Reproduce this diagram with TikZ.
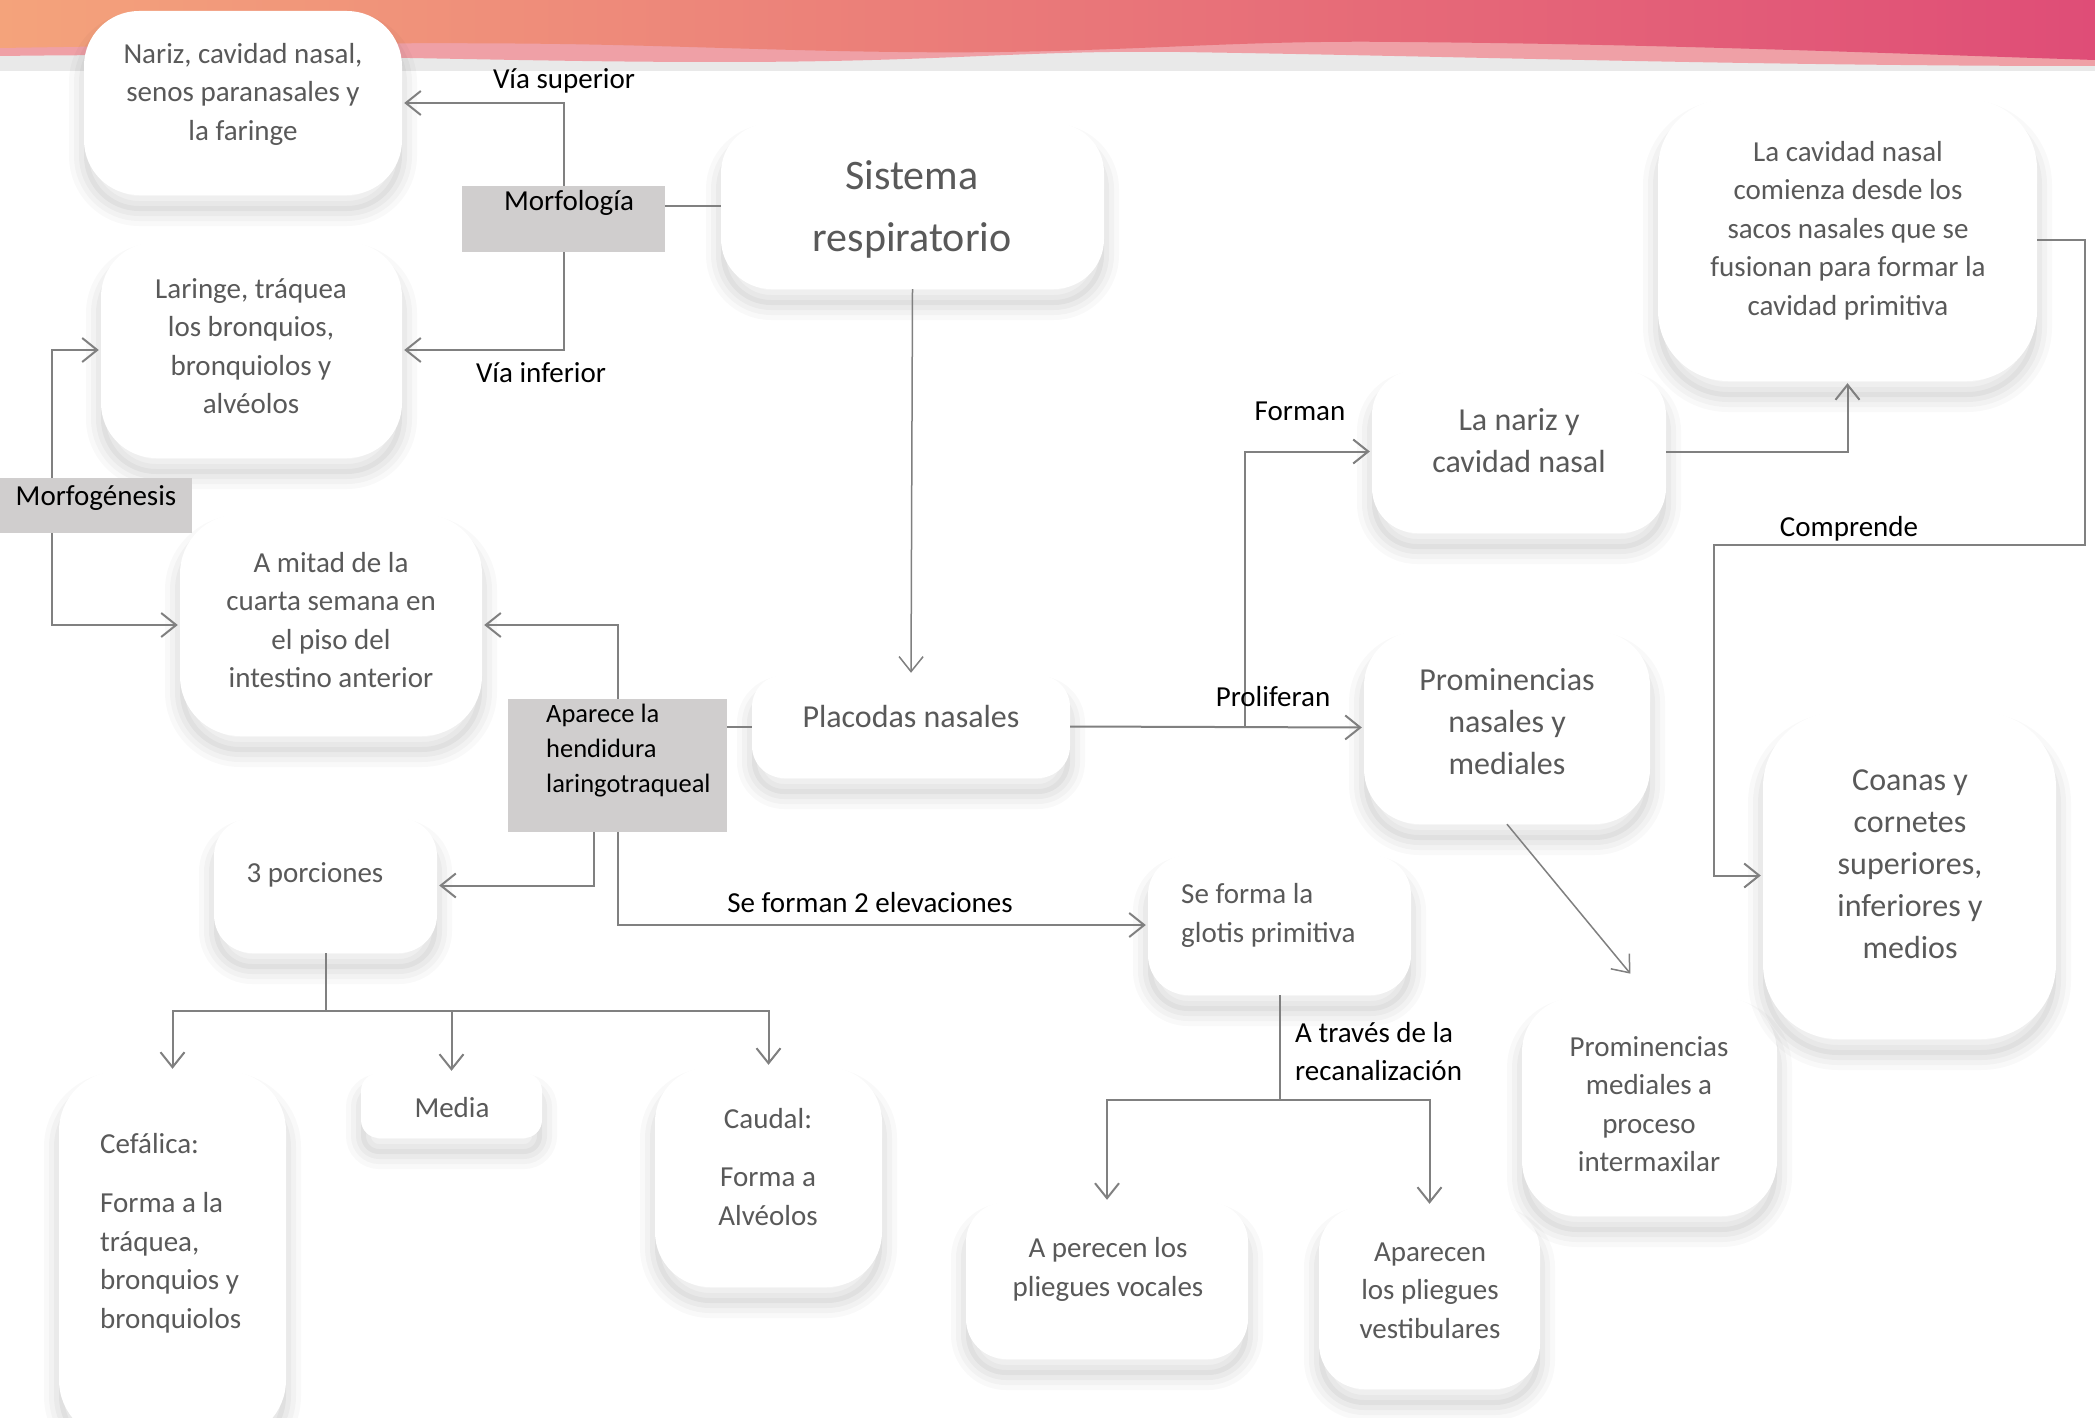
\documentclass[tikz,border=0pt]{standalone}
\usepackage{fontspec}
\setmainfont{Carlito}
\usetikzlibrary{arrows.meta}

\definecolor{linegrey}{HTML}{808080}
\definecolor{txtgrey}{HTML}{595959}
\definecolor{tagfill}{HTML}{D0CECE}
\definecolor{bandgrey}{HTML}{E9E9E9}
\definecolor{warmA}{HTML}{F4A37B}
\definecolor{warmB}{HTML}{EC7572}
\definecolor{warmC}{HTML}{DF4D77}
\definecolor{wavepink}{HTML}{EFA0A6}

\tikzset{
  % soft shadow: stacked translucent strokes and a fill, shifted downwards
  softshadow/.style={
    preaction={draw=black, draw opacity=0.022, line width=30pt, transform canvas={yshift=-16pt}},
    preaction={draw=black, draw opacity=0.027, line width=20pt, transform canvas={yshift=-16pt}},
    preaction={draw=black, draw opacity=0.032, line width=10pt, transform canvas={yshift=-16pt}},
    preaction={fill=black, fill opacity=0.04, transform canvas={yshift=-16pt}}},
  card/.style={draw=none, fill=white, inner sep=0pt, softshadow},
  tag/.style={fill=tagfill, inner sep=0pt},
  body/.style={font=\fontsize{29}{38.5}\selectfont, text=txtgrey, align=center, inner sep=0pt},
  bodybig/.style={font=\fontsize{32}{42}\selectfont, text=txtgrey, align=center, inner sep=0pt},
  cue/.style={font=\fontsize{29}{38.5}\selectfont, text=black, inner sep=0pt},
  conn/.style={draw=linegrey, line width=2pt},
  arr/.style={conn, -{Straight Barb[length=15pt,width=24pt]}, shorten >=2pt},
}

\begin{document}
\begin{tikzpicture}[x=1pt,y=-1pt]
\useasboundingbox (0,0) rectangle (2095,1418);
\fill[white] (0,0) rectangle (2095,1418);

% header band
\fill[bandgrey] (0,0) rectangle (2095,71);
\fill[wavepink] (0,0) -- (0,56) .. controls (300,52) and (480,62) .. (720,62)
  .. controls (950,62) and (1020,50) .. (1180,52)
  .. controls (1450,56) and (1750,66) .. (2095,66) -- (2095,0) -- cycle;
\shade[left color=warmA, middle color=warmB, right color=warmC]
  (0,0) -- (0,48) .. controls (250,44) and (420,42) .. (560,44)
  .. controls (700,46) and (850,54) .. (1000,52)
  .. controls (1150,50) and (1250,40) .. (1400,42)
  .. controls (1650,44) and (1850,52) .. (2095,60) -- (2095,0) -- cycle;

% cards and tags
\node[card, rounded corners=55pt, minimum width=318pt, minimum height=184pt] (nariz) at (243,103) {};
\node[tag, minimum width=203pt, minimum height=66pt] (morf) at (563.5,219) {};
\node[card, rounded corners=50pt, minimum width=383pt, minimum height=166pt] (sistema) at (912.5,206) {};
\node[card, rounded corners=55pt, minimum width=301pt, minimum height=216pt] (laringe) at (251.5,350) {};
\node[tag, minimum width=192pt, minimum height=55pt] (morfog) at (96,505.5) {};
\node[card, rounded corners=60pt, minimum width=302pt, minimum height=222pt] (mitad) at (331,625) {};
\node[tag, minimum width=219pt, minimum height=133pt] (hend) at (617.5,765.5) {};
\node[card, rounded corners=32pt, minimum width=318pt, minimum height=103pt] (placodas) at (911,726.5) {};
\node[card, rounded corners=38pt, minimum width=223pt, minimum height=135pt] (porc) at (325.5,885.5) {};
\node[card, rounded corners=60pt, minimum width=227pt, minimum height=369pt] (cef) at (172.5,1255.5) {};
\node[card, rounded corners=18pt, minimum width=181pt, minimum height=65pt] (media) at (451.5,1105.5) {};
\node[card, rounded corners=55pt, minimum width=227pt, minimum height=220pt] (caudal) at (768.5,1177) {};
\node[card, rounded corners=40pt, minimum width=263pt, minimum height=140pt] (glotis) at (1279.5,925) {};
\node[card, rounded corners=40pt, minimum width=282pt, minimum height=157pt] (vocales) at (1107,1280.5) {};
\node[card, rounded corners=45pt, minimum width=221pt, minimum height=183pt] (vestib) at (1429.5,1297.5) {};
\node[card, rounded corners=55pt, minimum width=255pt, minimum height=219pt] (medial) at (1649.5,1106.5) {};
\node[card, rounded corners=55pt, minimum width=286pt, minimum height=193pt] (nasales) at (1507,727.5) {};
\node[card, rounded corners=45pt, minimum width=294pt, minimum height=163pt] (lanariz) at (1519,451.5) {};
\node[card, rounded corners=70pt, minimum width=379pt, minimum height=282pt] (cavidad) at (1847.5,240) {};
\node[card, rounded corners=75pt, minimum width=293pt, minimum height=327pt] (coanas) at (1909.5,875.5) {};

% connectors
\draw[arr] (morf.north) |- (nariz.east);
\draw[arr] (morf.south) |- (laringe.east);
\draw[conn] (morf.east |- sistema.west) -- (sistema.west);
\draw[arr, line width=1.5pt] (sistema.south) -- (placodas.north);
\draw[arr] ([xshift=-44pt]morfog.north) |- (laringe.west);
\draw[arr] ([xshift=-44pt]morfog.south) |- (mitad.west);
\draw[arr] (hend.north) |- (mitad.east);
\draw[conn] (hend.east |- placodas.west) -- (placodas.west);
\draw[arr] ([xshift=-23.5pt]hend.south) |- (porc.east);
\draw[arr] (hend.south) |- (glotis.west);

\coordinate (pj) at ([yshift=-58pt]porc.south);
\draw[conn] (porc.south) -- (pj);
\draw[arr] (pj) -| (cef.north);
\draw[arr] (pj) -| (media.north);
\draw[arr] (pj) -| (caudal.north);

\draw[arr] (placodas.east) -- (nasales.west);
\coordinate (pb) at ([xshift=175pt]placodas.east);
\draw[arr] (pb) |- (lanariz.west);
\draw[arr] (lanariz.east) -| (cavidad.south);
\coordinate (cr) at ([xshift=48pt]cavidad.east);
\coordinate (cc) at (1714,545);
\draw[arr] (cavidad.east) -- (cr) |- (cc) |- (coanas.west);
\draw[arr, line width=1.5pt, shorten >=30pt] (nasales.south) -- (medial.north);

\coordinate (gj) at ([yshift=-105pt]glotis.south);
\draw[conn] (glotis.south) -- (gj);
\draw[arr] (gj) -| (vocales.north);
\draw[arr] (gj) -| (vestib.north);

% texts inside the cards and tags
\node[body] (nariz-t) at (243,94) {Nariz, cavidad nasal,\\senos paranasales y\\la faringe};
\node[cue] (morf-t) at (569,203) {Morfología};
\node[font=\fontsize{42}{62}\selectfont, text=txtgrey, align=center, inner sep=0pt] (sistema-t) at (912,209) {Sistema\\respiratorio};
\node[body] (laringe-t) at (251,346) {Laringe, tráquea\\los bronquios,\\bronquiolos y\\alvéolos};
\node[cue] (morfog-t) at (96,498) {Morfogénesis};
\node[body] (mitad-t) at (331,620) {A mitad de la\\cuarta semana en\\el piso del\\intestino anterior};
\node[font=\fontsize{26.5}{35}\selectfont, align=left, inner sep=0pt, anchor=west] (hend-t) at (546,751) {Aparece la\\hendidura\\laringotraqueal};
\node[bodybig] (placodas-t) at (911,716) {Placodas nasales};
\node[body] (porc-t) at (315,875) {3 porciones};
\node[body, align=left, anchor=west] (cef-t) at (100,1233) {Cefálica:\\[21pt]Forma a la\\tráquea,\\bronquios y\\bronquiolos};
\node[body] (media-t) at (452,1108) {Media};
\node[body] (caudal-t) at (768,1167) {Caudal:\\[20pt]Forma a\\Alvéolos};
\node[body, align=left, anchor=west] (glotis-t) at (1181,915.5) {Se forma la\\glotis primitiva};
\node[body] (vocales-t) at (1108,1269.5) {A perecen los\\pliegues vocales};
\node[body] (vestib-t) at (1430,1290.5) {Aparecen\\los pliegues\\vestibulares};
\node[body] (medial-t) at (1649,1104) {Prominencias\\mediales a\\proceso\\intermaxilar};
\node[bodybig] (nasales-t) at (1507,721.5) {Prominencias\\nasales y\\mediales};
\node[bodybig] (lanariz-t) at (1519,440.5) {La nariz y\\cavidad nasal};
\node[body] (cavidad-t) at (1848,230.5) {La cavidad nasal\\comienza desde los\\sacos nasales que se\\fusionan para formar la\\cavidad primitiva};
\node[bodybig] (coanas-t) at (1910,864.5) {Coanas y\\cornetes\\superiores,\\inferiores y\\medios};

% connector labels
\node[cue] (l-sup) at (564,81) {Vía superior};
\node[cue] (l-inf) at (541,373) {Vía inferior};
\node[cue] (l-forman) at (1300,411) {Forman};
\node[cue] (l-comp) at (1849,529) {Comprende};
\node[cue] (l-prolif) at (1273,697) {Proliferan};
\node[cue] (l-elev) at (870,903) {Se forman 2 elevaciones};
\node[cue, align=left, anchor=west] (l-recan) at (1295,1051.5) {A través de la\\recanalización};
\end{tikzpicture}
\end{document}
